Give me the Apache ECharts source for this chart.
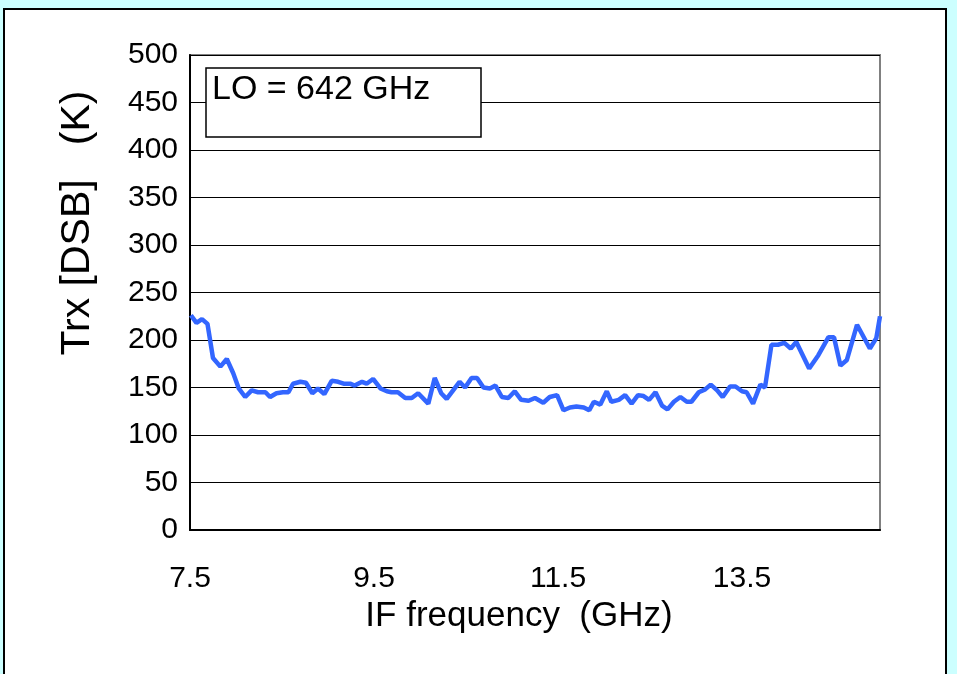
<!DOCTYPE html>
<html>
<head>
<meta charset="utf-8">
<script src="https://cdn.jsdelivr.net/npm/echarts@6/dist/echarts.min.js"></script>
<style>
  html, body { margin: 0; padding: 0; background: #ccffff; }
  #chart { width: 957px; height: 674px; }
</style>
</head>
<body>
<div id="chart"></div>
<script>
// IF frequency (GHz) and receiver noise temperature Trx [DSB] (K)
var freq = [7.51, 7.57, 7.63, 7.69, 7.75, 7.83, 7.90, 7.97, 8.03, 8.10,
    8.17, 8.24, 8.32, 8.37, 8.44, 8.51, 8.57, 8.62, 8.70, 8.76,
    8.83, 8.89, 8.96, 9.04, 9.11, 9.17, 9.24, 9.29, 9.37, 9.42,
    9.49, 9.57, 9.64, 9.69, 9.76, 9.84, 9.91, 9.98, 10.09, 10.16,
    10.23, 10.29, 10.36, 10.43, 10.49, 10.56, 10.62, 10.69, 10.76, 10.82,
    10.89, 10.96, 11.03, 11.10, 11.18, 11.25, 11.34, 11.41, 11.49, 11.56,
    11.63, 11.70, 11.78, 11.84, 11.89, 11.96, 12.03, 12.08, 12.16, 12.23,
    12.30, 12.37, 12.43, 12.49, 12.56, 12.63, 12.69, 12.76, 12.83, 12.90,
    12.95, 13.03, 13.10, 13.16, 13.23, 13.29, 13.37, 13.43, 13.50, 13.55,
    13.62, 13.70, 13.75, 13.82, 13.89, 13.96, 14.03, 14.09, 14.23, 14.33,
    14.44, 14.50, 14.57, 14.64, 14.75, 14.89, 14.96, 15.00];
var trx = [226, 218, 222, 217, 181, 172, 180, 165, 149, 140,
    147, 145, 145, 140, 144, 145, 145, 154, 156, 155,
    144, 149, 143, 157, 156, 154, 154, 152, 156, 154,
    159, 149, 146, 145, 145, 139, 139, 144, 133, 160,
    144, 138, 147, 156, 150, 160, 160, 150, 149, 152,
    140, 139, 146, 137, 136, 139, 134, 140, 142, 126,
    129, 130, 129, 126, 135, 132, 146, 135, 137, 142,
    133, 142, 141, 137, 145, 131, 127, 135, 140, 135,
    135, 145, 148, 153, 147, 140, 151, 151, 146, 145,
    133, 153, 150, 195, 195, 197, 191, 198, 170, 184,
    203, 203, 173, 179, 216, 191, 202, 225];
var xLabels = [7.5, 9.5, 11.5, 13.5];
var loText = 'LO = 642 GHz';

var font = "'Liberation Sans', Arial, sans-serif";
var chart = echarts.init(document.getElementById('chart'));

var points = [];
for (var i = 0; i < freq.length; i++) {
    points.push([freq[i], trx[i]]);
}

var option = {
    backgroundColor: '#ccffff',
    animation: false,
    grid: {
        left: 190,
        top: 55,
        right: 77,
        bottom: 144,
        show: true,
        backgroundColor: 'transparent',
        borderColor: '#808080',
        borderWidth: 2
    },
    xAxis: {
        type: 'value',
        min: 7.5,
        max: 15,
        interval: 0.5,
        axisLine: {lineStyle: {color: '#000', width: 2}},
        axisTick: {show: false},
        splitLine: {show: false},
        axisLabel: {
            margin: 34,
            fontFamily: font,
            fontSize: 30,
            color: '#000',
            showMaxLabel: false,
            formatter: function (v) {
                for (var k = 0; k < xLabels.length; k++) {
                    if (Math.abs(v - xLabels[k]) < 1e-6) return xLabels[k].toFixed(1);
                }
                return '';
            }
        }
    },
    yAxis: {
        type: 'value',
        min: 0,
        max: 500,
        interval: 50,
        axisLine: {show: true, lineStyle: {color: '#000', width: 2}},
        axisTick: {show: true, inside: true, length: 8, lineStyle: {color: '#000'}},
        splitLine: {lineStyle: {color: '#000', width: 1}},
        axisLabel: {
            margin: 12,
            fontFamily: font,
            fontSize: 30,
            color: '#000'
        }
    },
    graphic: [
        {
            type: 'rect',
            z: -100,
            shape: {x: 4, y: 9, width: 942, height: 700},
            style: {fill: '#fff', stroke: '#000', lineWidth: 2}
        },
        {
            type: 'rect',
            z: 100,
            shape: {x: 206, y: 68, width: 275, height: 69},
            style: {fill: '#fff', stroke: '#000', lineWidth: 1.5}
        },
        {
            type: 'text',
            z: 101,
            x: 212,
            y: 73,
            style: {text: loText, font: '34px ' + font, fill: '#000'}
        },
        {
            type: 'text',
            z: 101,
            x: 519,
            y: 616,
            style: {
                text: 'IF frequency  (GHz)', font: '35px ' + font, fill: '#000',
                align: 'center', verticalAlign: 'middle'
            }
        },
        {
            type: 'text',
            z: 101,
            x: 78,
            y: 223,
            rotation: Math.PI / 2,
            style: {
                text: 'Trx [DSB]   (K)', font: '41px ' + font, fill: '#000',
                align: 'center', verticalAlign: 'middle'
            }
        }
    ],
    series: [
        {
            type: 'line',
            data: points,
            showSymbol: false,
            symbol: 'none',
            lineStyle: {color: '#3366ff', width: 4.5},
            z: 5
        }
    ]
};

chart.setOption(option);
</script>
</body>
</html>
